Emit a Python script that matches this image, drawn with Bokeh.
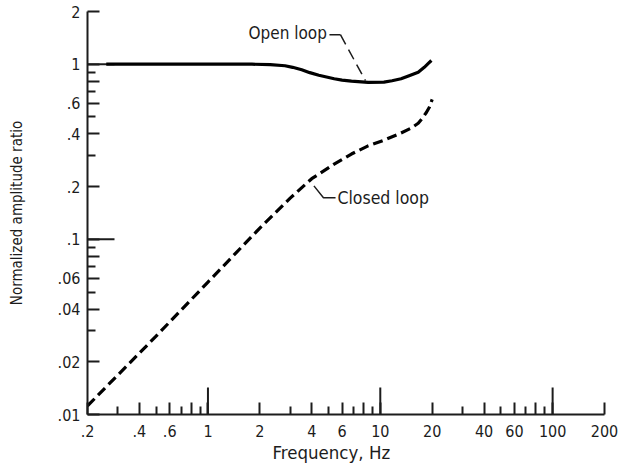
import math
from bokeh.plotting import figure
from bokeh.models import FixedTicker, Label, Range1d, Title
from bokeh.embed import file_html
from bokeh.resources import INLINE

# ---- data ----
freq_open = [0.257, 0.5, 1, 1.8, 2.3, 2.8, 3.1, 3.5, 3.9, 4.4, 5.4, 6.0, 6.8, 8.5, 10.5, 11.7, 13.2, 14.7, 16.6, 18.0, 19.0, 19.8]
amp_open = [1.0, 1.0, 1.0, 1.0, 0.995, 0.98, 0.96, 0.93, 0.895, 0.865, 0.826, 0.812, 0.80, 0.787, 0.79, 0.805, 0.826, 0.86, 0.90, 0.96, 1.01, 1.05]

freq_closed = [0.2, 0.5, 1, 2, 3, 4, 5.4, 6.8, 8.5, 10.5, 13.2, 15, 16.6, 17.5, 18.5, 19.3, 20]
amp_closed = [0.0112, 0.028, 0.057, 0.116, 0.172, 0.222, 0.269, 0.307, 0.342, 0.368, 0.405, 0.43, 0.46, 0.49, 0.53, 0.57, 0.63]

x_major = [0.2, 0.4, 0.6, 0.8, 1, 2, 4, 6, 8, 10, 20, 40, 60, 80, 100, 200]
x_minor = [0.3, 0.5, 0.7, 0.9, 3, 5, 7, 9, 30, 50, 70, 90]
x_labels = [".2", ".4", ".6", "", "1", "2", "4", "6", "", "10", "20", "40", "60", "", "100", "200"]
x_decades = [1, 10, 100]

y_major = [0.01, 0.02, 0.04, 0.06, 0.08, 0.1, 0.2, 0.4, 0.6, 0.8, 1, 2]
y_minor = [0.03, 0.05, 0.07, 0.09, 0.3, 0.5, 0.7, 0.9]
y_labels = [".01", ".02", ".04", ".06", "", ".1", ".2", ".4", ".6", "", "1", "2"]
y_decades = [0.1, 1]

x_title = "Frequency, Hz"
y_title = "Normalized amplitude ratio"

# annotation anchors (data coordinates)
open_text = (1.72, 1.51)
open_leader_solid = ([5.07, 5.87], [1.475, 1.475])
open_leader_dash = ([5.87, 8.2], [1.475, 0.805])
closed_text = (5.64, 0.173)
closed_leader = ([4.12, 4.68, 5.5], [0.202, 0.173, 0.173])

FONT = "DejaVu Sans Condensed"
INK = "#1c1c1c"

p = figure(width=618, height=467, x_axis_type="log", y_axis_type="log",
           x_range=Range1d(x_major[0], x_major[-1]), y_range=Range1d(y_major[0], y_major[-1]),
           output_backend="svg", toolbar_location=None,
           min_border_left=87, min_border_right=14, min_border_top=11, min_border_bottom=53)

p.outline_line_color = None
p.background_fill_color = "white"
p.border_fill_color = "white"
p.xgrid.visible = False
p.ygrid.visible = False

for ax, major, minor, labels in ((p.xaxis[0], x_major, x_minor, x_labels),
                                 (p.yaxis[0], y_major, y_minor, y_labels)):
    ax.ticker = FixedTicker(ticks=major, minor_ticks=minor)
    ax.major_label_overrides = {float(t): l for t, l in zip(major, labels)}
    ax.axis_line_color = INK
    ax.axis_line_width = 2
    ax.major_tick_line_color = INK
    ax.major_tick_line_width = 2
    ax.minor_tick_line_color = INK
    ax.minor_tick_line_width = 2
    ax.major_tick_in = 12
    ax.major_tick_out = 0
    ax.minor_tick_in = 8
    ax.minor_tick_out = 0
    ax.major_label_text_font = FONT
    ax.major_label_text_font_size = "16px"
    ax.major_label_text_color = INK
    ax.axis_label_text_font = FONT
    ax.axis_label_text_font_style = "normal"
    ax.axis_label_text_color = INK

p.yaxis.axis_label = y_title
p.yaxis.axis_label_text_font_size = "15px"
p.xaxis.major_label_standoff = 10
p.yaxis.major_label_standoff = 7
p.yaxis.axis_label_standoff = 29

# x-axis title, placed left-aligned like the reference lettering
p.add_layout(Title(text=x_title, align="left", offset=185, standoff=0,
                   text_font=FONT, text_font_size="18.5px", text_font_style="normal",
                   text_color=INK), "below")

# long decade ticks (half of each marker is clipped by the frame)
p.scatter(x=x_decades, y=[y_major[0]] * len(x_decades), marker="dash", size=54,
          angle=math.pi / 2, line_color=INK, line_width=2)
p.scatter(x=[x_major[0]] * len(y_decades), y=y_decades, marker="dash", size=54,
          angle=0, line_color=INK, line_width=2)

# curves
p.line(freq_open, amp_open, line_color="black", line_width=3.2, line_join="round")
p.line(freq_closed, amp_closed, line_color="black", line_width=3.2, line_dash="10 5")

# annotations
p.line(*open_leader_solid, line_color=INK, line_width=1.5)
p.line(*open_leader_dash, line_color=INK, line_width=1.5, line_dash="11 6")
p.line(*closed_leader, line_color=INK, line_width=1.5)
p.add_layout(Label(x=open_text[0], y=open_text[1], text="Open loop", text_font=FONT,
                   text_font_size="17px", text_color=INK, text_baseline="middle", text_align="left"))
p.add_layout(Label(x=closed_text[0], y=closed_text[1], text="Closed loop", text_font=FONT,
                   text_font_size="17.5px", text_color=INK, text_baseline="middle", text_align="left"))

open("out.html", "w").write(file_html(p, INLINE))
